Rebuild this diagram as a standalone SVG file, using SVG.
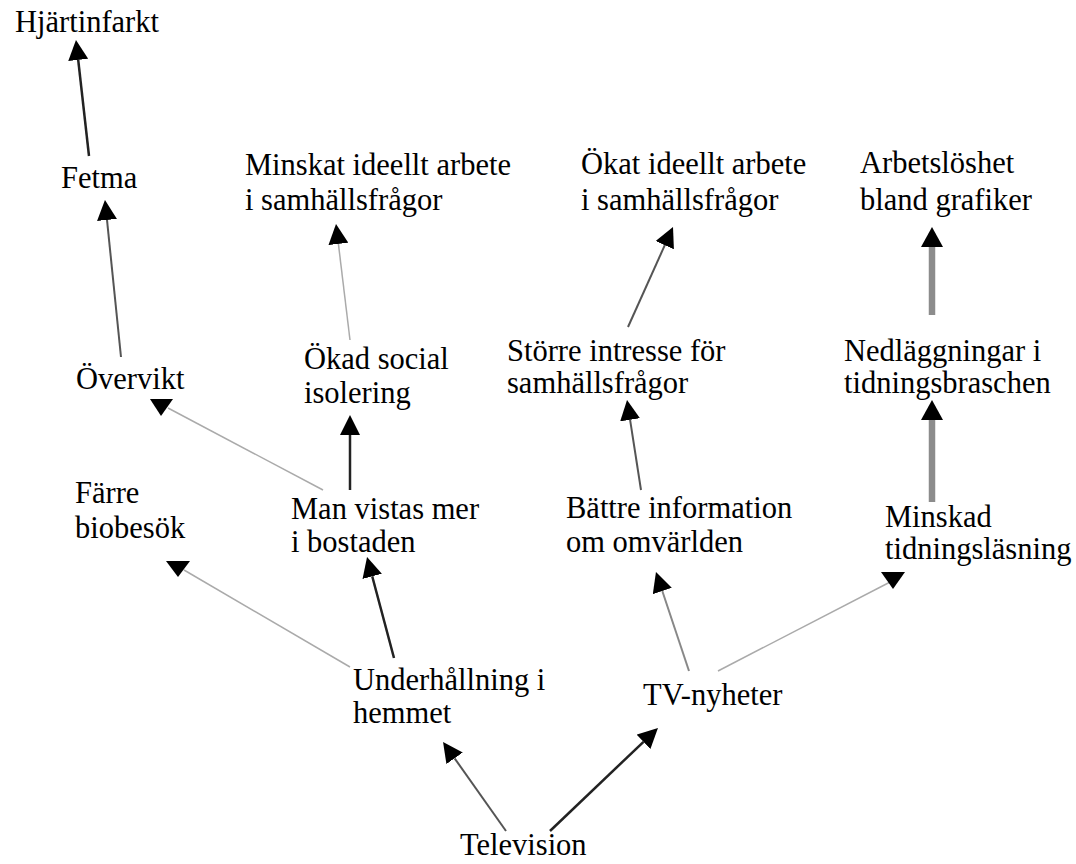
<svg xmlns="http://www.w3.org/2000/svg" width="1076" height="864" viewBox="0 0 1076 864">
<style>
text{font-family:"Liberation Serif","Times New Roman",serif;font-size:30.5px;fill:#000}
.c{fill:none;stroke-linecap:butt}
.dk{stroke:#222;stroke-width:2.5}
.md{stroke:#555;stroke-width:2}
.gr{stroke:#888;stroke-width:2}
.lt{stroke:#aaa;stroke-width:1.5}
.th{stroke:#8c8c8c;stroke-width:6.5}
.hd{fill:#000}
</style>
<defs>
<marker id="ah" viewBox="0 0 20 20" refX="0" refY="10" markerWidth="20" markerHeight="20" markerUnits="userSpaceOnUse" orient="auto">
<path d="M0,0 L20,10 L0,20 z" fill="#000"/>
</marker>
<marker id="ahw" viewBox="0 0 20 22" refX="0" refY="11" markerWidth="20" markerHeight="22" markerUnits="userSpaceOnUse" orient="auto">
<path d="M0,0 L20,11 L0,22 z" fill="#000"/>
</marker>
</defs>
<g id="connectors">
<line class="c dk" x1="89" y1="156" x2="78.2" y2="59.9" marker-end="url(#ah)"/>
<line class="c md" x1="121" y1="357" x2="107" y2="219.9" marker-end="url(#ah)"/>
<line class="c lt" x1="323" y1="490" x2="168" y2="408"/>
<polygon class="hd" points="150,399 173,399 161,416"/>
<line class="c lt" x1="350" y1="667" x2="184" y2="570"/>
<polygon class="hd" points="166,561 190,561 178,577"/>
<line class="c dk" x1="394" y1="658" x2="372.2" y2="576.3" marker-end="url(#ah)"/>
<line class="c dk" x1="350" y1="490" x2="350" y2="435" marker-end="url(#ah)"/>
<line class="c lt" x1="350" y1="340" x2="338.4" y2="243.9" marker-end="url(#ah)"/>
<line class="c md" x1="628" y1="327" x2="664.8" y2="245.2" marker-end="url(#ah)"/>
<line class="c md" x1="641" y1="490" x2="630.1" y2="419.8" marker-end="url(#ah)"/>
<line class="c gr" x1="689" y1="671" x2="662.3" y2="591" marker-end="url(#ah)"/>
<line class="c lt" x1="718" y1="671" x2="894" y2="580"/>
<polygon class="hd" points="881,572 905,572 893,589"/>
<line class="c th" x1="932" y1="502" x2="932" y2="420" marker-end="url(#ahw)"/>
<line class="c th" x1="932" y1="315" x2="932" y2="247" marker-end="url(#ahw)"/>
<line class="c md" x1="506" y1="831" x2="454.6" y2="758.3" marker-end="url(#ah)"/>
<line class="c dk" x1="550" y1="831" x2="643.5" y2="741.8" marker-end="url(#ah)"/>
</g>
<g id="hjartinfarkt"><text x="15" y="32">Hjärtinfarkt</text></g>
<g id="fetma"><text x="61" y="188">Fetma</text></g>
<g id="overvikt"><text x="76" y="389">Övervikt</text></g>
<g id="farre-biobesok"><text x="75" y="503">Färre</text><text x="75" y="538">biobesök</text></g>
<g id="minskat-ideellt"><text x="245" y="175">Minskat ideellt arbete</text><text x="245" y="210">i samhällsfrågor</text></g>
<g id="okad-social"><text x="304" y="369">Ökad social</text><text x="304" y="403">isolering</text></g>
<g id="man-vistas"><text x="291" y="519">Man vistas mer</text><text x="291" y="552">i bostaden</text></g>
<g id="underhallning"><text x="353" y="690">Underhållning i</text><text x="353" y="723">hemmet</text></g>
<g id="television"><text x="460" y="855">Television</text></g>
<g id="okat-ideellt"><text x="581" y="174">Ökat ideellt arbete</text><text x="581" y="210">i samhällsfrågor</text></g>
<g id="storre-intresse"><text x="507" y="361">Större intresse för</text><text x="507" y="393">samhällsfrågor</text></g>
<g id="battre-information"><text x="566" y="518">Bättre information</text><text x="566" y="552">om omvärlden</text></g>
<g id="tv-nyheter"><text x="643" y="705">TV-nyheter</text></g>
<g id="arbetsloshet"><text x="860" y="173">Arbetslöshet</text><text x="860" y="210">bland grafiker</text></g>
<g id="nedlaggningar"><text x="844" y="361">Nedläggningar i</text><text x="844" y="393">tidningsbraschen</text></g>
<g id="minskad-tidning"><text x="885" y="527">Minskad</text><text x="885" y="559">tidningsläsning</text></g>
</svg>
